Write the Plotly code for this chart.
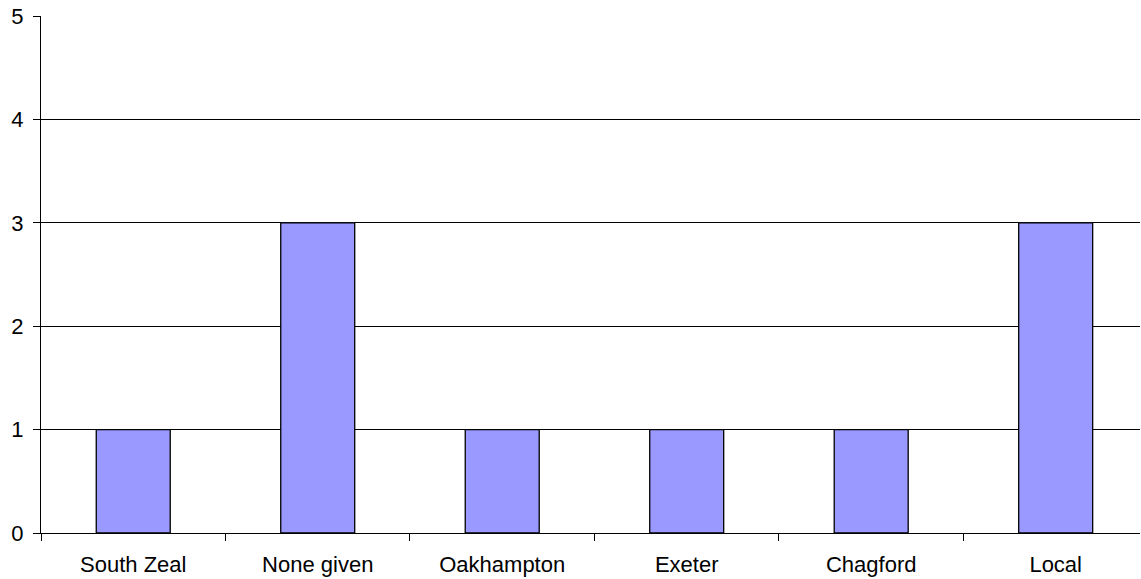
import plotly.graph_objects as go

categories = ["South Zeal", "None given", "Oakhampton", "Exeter", "Chagford", "Local"]
values = [1, 3, 1, 1, 1, 3]
y_ticks = [0, 1, 2, 3, 4, 5]

fig = go.Figure()
fig.add_trace(go.Bar(
    x=categories,
    y=values,
    marker=dict(color="#9999FF", line=dict(color="#000000", width=1.3)),
    hoverinfo="skip",
))

fig.update_layout(
    width=1141,
    height=579,
    margin=dict(l=41, r=1, t=16, b=46),
    paper_bgcolor="white",
    plot_bgcolor="white",
    bargap=0.599,
    showlegend=False,
    font=dict(family="Liberation Sans, Arial, sans-serif", size=22, color="#000000"),
)

fig.update_xaxes(
    type="category",
    range=[-0.5, 5.457],
    showgrid=False,
    showline=True,
    linecolor="#000000",
    linewidth=1,
    ticks="outside",
    tickson="boundaries",
    ticklen=7,
    tickcolor="#000000",
    tickwidth=1,
    tickfont=dict(size=22),
    ticklabelstandoff=12,
)

fig.update_yaxes(
    range=[0, 5],
    tickvals=y_ticks,
    showgrid=True,
    gridcolor="#000000",
    gridwidth=1,
    showline=True,
    linecolor="#000000",
    linewidth=1,
    ticks="outside",
    ticklen=7,
    tickcolor="#000000",
    tickwidth=1,
    zeroline=False,
    tickfont=dict(size=22),
    ticklabelstandoff=5,
)

fig.write_html("out.html")
